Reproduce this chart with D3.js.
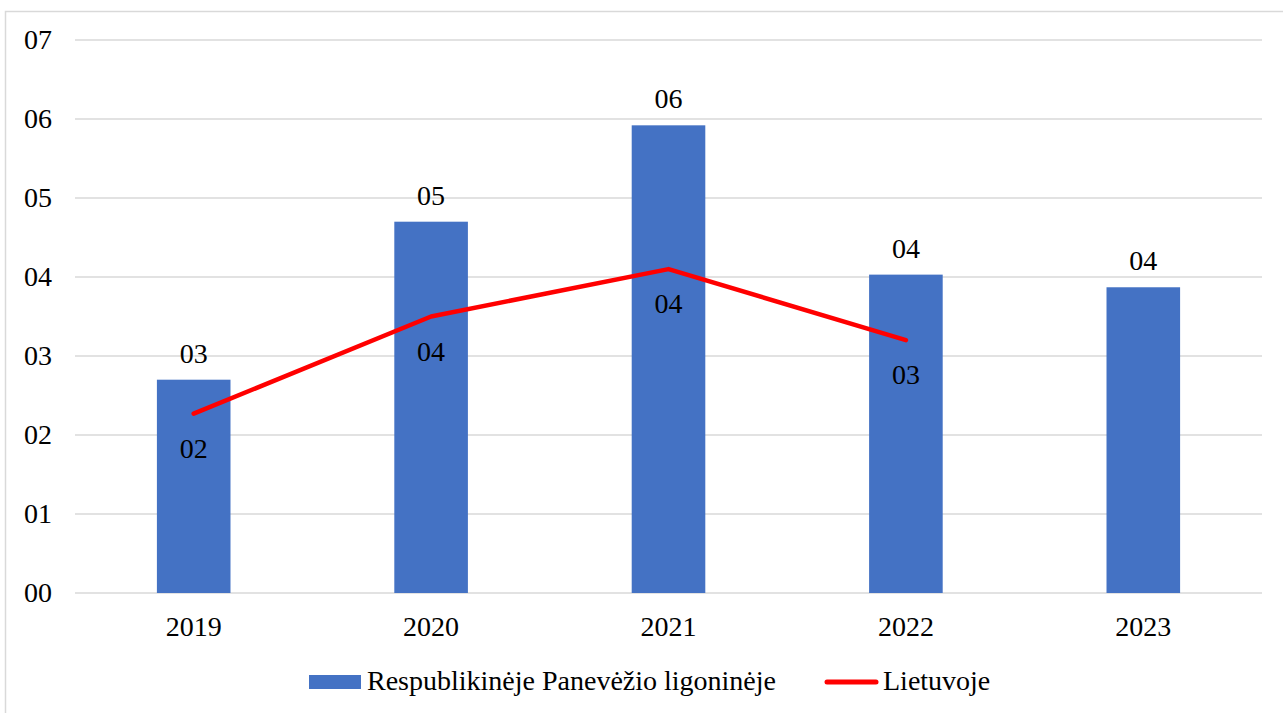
<!DOCTYPE html>
<html>
<head>
<meta charset="utf-8">
<script src="https://cdn.jsdelivr.net/npm/d3@7"></script>
<style>
body { margin: 0; background: #fff; }
svg { display: block; font-family: "Liberation Serif", "Times New Roman", serif; }
</style>
</head>
<body>
<svg id="chart" width="1283" height="713"></svg>
<script>
// chart data
var years = ["2019", "2020", "2021", "2022", "2023"];
var hospitalValues = [2.70, 4.70, 5.92, 4.03, 3.87];   // bars
var lithuaniaValues = [2.27, 3.50, 4.10, 3.20, null];   // red line, no 2023
var yTicks = [0, 1, 2, 3, 4, 5, 6, 7];
var seriesNames = ["Respublikinėje Panevėžio ligoninėje", "Lietuvoje"];

var FONT = 28;
var svg = d3.select("#chart");

//outer chart frame, goes past right/bottom edge like the original
svg.append("rect")
.attr("x", 5.5)
.attr("y", 11.5)
.attr("width", 1300)
.attr("height", 720)
.attr("fill", "none")
.attr("stroke", "#d9d9d9")
.attr("stroke-width", 1.5);

//plot box (don't call it "top", that's window.top)
var plotLeft = 75, plotRight = 1262, plotTop = 40, plotBottom = 593;

var x = d3.scaleBand()
.domain(years)
.range([plotLeft, plotRight])
.paddingInner(0.69)
.paddingOuter(0.345);

var y = d3.scaleLinear()
.domain([0, 7])
.range([plotBottom, plotTop]);

//gridlines
svg.append("g")
.selectAll("line")
.data(yTicks)
.enter()
.append("line")
.attr("x1", plotLeft)
.attr("x2", plotRight)
.attr("y1", function(d){ return y(d); })
.attr("y2", function(d){ return y(d); })
.attr("stroke", "#d9d9d9")
.attr("stroke-width", 1.5);

//numbers are shown as 00, 01 ...
var fmt2 = function(v){ return d3.format("02d")(Math.round(v)); };

var yAxis = d3.axisLeft(y).tickValues(yTicks).tickSize(0).tickPadding(0).tickFormat(fmt2);
var yG = svg.append("g")
.attr("transform", "translate(52,0)")
.call(yAxis);
yG.select(".domain").remove();
yG.selectAll("text")
.attr("font-size", FONT)
.attr("font-family", "Liberation Serif")
.attr("fill", "#000");

//x axis labels
var xAxis = d3.axisBottom(x).tickSize(0).tickPadding(23);
var xG = svg.append("g")
.attr("transform", "translate(0," + plotBottom + ")")
.call(xAxis);
xG.select(".domain").remove();
xG.selectAll("text")
.attr("font-size", FONT)
.attr("font-family", "Liberation Serif")
.attr("fill", "#000");

//bars
svg.append("g")
.selectAll("rect")
.data(hospitalValues)
.enter()
.append("rect")
.attr("x", function(d, i){ return x(years[i]); })
.attr("y", function(d){ return y(d); })
.attr("width", x.bandwidth())
.attr("height", function(d){ return y(0) - y(d); })
.attr("fill", "#4472c4");

//bar value labels
svg.append("g")
.selectAll("text")
.data(hospitalValues)
.enter()
.append("text")
.attr("x", function(d, i){ return x(years[i]) + x.bandwidth() / 2; })
.attr("y", function(d){ return y(d) - 17; })
.attr("text-anchor", "middle")
.attr("font-size", FONT)
.attr("fill", "#000")
.text(fmt2);

//red line
var linePts = lithuaniaValues
.map(function(d, i){ return {year: years[i], v: d}; })
.filter(function(d){ return d.v != null; });

var line = d3.line()
.x(function(d){ return x(d.year) + x.bandwidth() / 2; })
.y(function(d){ return y(d.v); });

svg.append("path")
.datum(linePts)
.attr("d", line)
.attr("fill", "none")
.attr("stroke", "#ff0000")
.attr("stroke-width", 4.5)
.attr("stroke-linecap", "round")
.attr("stroke-linejoin", "round");

//line value labels, below the points
svg.append("g")
.selectAll("text")
.data(linePts)
.enter()
.append("text")
.attr("x", function(d){ return x(d.year) + x.bandwidth() / 2; })
.attr("y", function(d){ return y(d.v) + 44; })
.attr("text-anchor", "middle")
.attr("font-size", FONT)
.attr("fill", "#000")
.text(function(d){ return fmt2(d.v); });

//legend
var legend = svg.append("g");
legend.append("rect")
.attr("x", 309)
.attr("y", 675)
.attr("width", 52)
.attr("height", 14)
.attr("fill", "#4472c4");
legend.append("text")
.attr("x", 367)
.attr("y", 690)
.attr("font-size", FONT)
.text(seriesNames[0]);
legend.append("line")
.attr("x1", 827)
.attr("x2", 876)
.attr("y1", 682)
.attr("y2", 682)
.attr("stroke", "#ff0000")
.attr("stroke-width", 5)
.attr("stroke-linecap", "round");
legend.append("text")
.attr("x", 883)
.attr("y", 690)
.attr("font-size", FONT)
.text(seriesNames[1]);
</script>
</body>
</html>
